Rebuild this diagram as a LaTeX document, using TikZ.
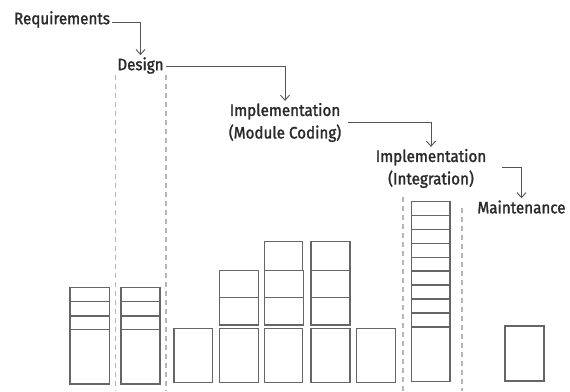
\documentclass[tikz,border=0pt]{standalone}
\usepackage{fontspec}
\setmainfont{Fira Sans}[FakeStretch=0.92, FakeBold=1.6]
\usetikzlibrary{arrows.meta}
\definecolor{txt}{HTML}{2A2A2A}
\definecolor{lin}{HTML}{555555}
\definecolor{boxc}{HTML}{666666}
\definecolor{dsh}{HTML}{B5B5B5}
\tikzset{
  lbl/.style={text=txt, font=\fontsize{16.5}{22.5}\selectfont, inner sep=2pt, align=center},
  conn/.style={draw=lin, line width=0.9pt, -{Straight Barb[length=5pt,width=9pt,line width=0.9pt]}},
  blk/.style={draw=boxc, line width=1.5pt},
  sep/.style={draw=dsh, line width=1.1pt, dash pattern=on 5pt off 4pt}
}
\begin{document}
\begin{tikzpicture}[x=1pt,y=-1pt]
\useasboundingbox[fill=white] (0,0) rectangle (570,391);
% labels
\node[lbl] (req) at (62,19.5) {Requirements};
\node[lbl] (des) at (140.5,65.5) {Design};
\node[lbl] (imc) at (285,122.5) {Implementation\\(Module Coding)};
\node[lbl] (imi) at (431,168.5) {Implementation\\(Integration)};
\node[lbl] (mai) at (521.5,207) {Maintenance};
% connectors
\draw[conn] ([yshift=-2.5pt]req.east) -| (des.north);
\draw[conn] ([yshift=-1pt]des.east) -| (imc.north);
\draw[conn] ([xshift=5pt]imc.east) -| (imi.north);
\draw[conn] ([xshift=14pt,yshift=1.5pt]imi.east) -| (mai.north);
% dashed separators
\draw[sep] (115.5,75) -- (115.5,391);
\draw[sep] (166,75) -- (166,391);
\draw[sep] (403,197) -- (403,391);
\draw[sep] (462,208) -- (462,391);
% column 1 and 2
\foreach \xa/\xb in {70/109.3, 121/160}{
  \draw[blk] (\xa,287.7) rectangle (\xb,384);
  \draw[blk] (\xa,301.7) -- (\xb,301.7);
  \draw[blk] (\xa,316) -- (\xb,316);
  \draw[blk] (\xa,329.3) -- (\xb,329.3);
}
% bottom boxes
\foreach \xa/\xb in {174/212.3, 219.3/258.7, 264.3/302.7, 311/350, 356.7/395.7}{
  \draw[blk] (\xa,328.3) rectangle (\xb,382.5);
}
% stacks
\foreach \xa/\xb in {219.3/258.7, 264.3/303.5, 311/350}{
  \draw[blk] (\xa,270.3) rectangle (\xb,324.8);
  \draw[blk] (\xa,297.5) -- (\xb,297.5);
}
\draw[blk] (264.3,241.7) rectangle (302.7,270.3);
\draw[blk] (311,241.7) rectangle (350,270.3);
% tall column
\draw[blk] (411.7,201.7) rectangle (450,381.7);
\foreach \i in {1,...,9}{
  \draw[blk] (411.7,201.7+13.9*\i) -- (450,201.7+13.9*\i);
}
% maintenance box
\draw[blk] (505,326) rectangle (544,381);
\end{tikzpicture}
\end{document}
